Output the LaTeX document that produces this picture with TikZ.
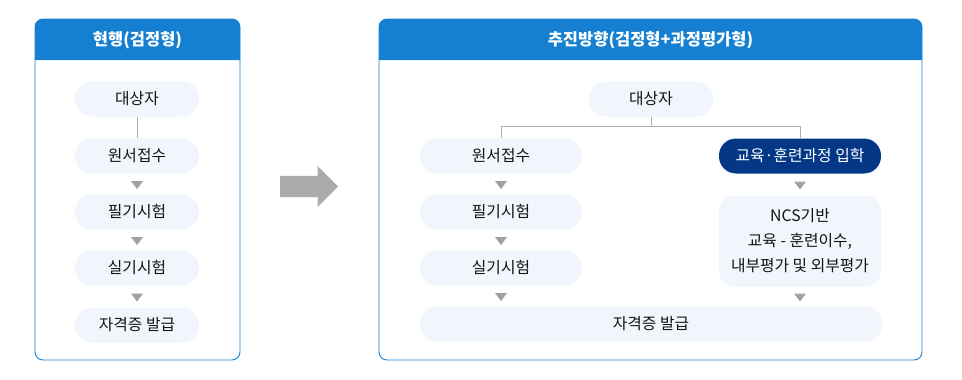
\documentclass[tikz,border=0pt]{standalone}
\usepackage{fontspec}
\setmainfont{Noto Sans CJK KR}
\usetikzlibrary{shapes.geometric,shapes.arrows}
\definecolor{headblue}{RGB}{21,128,210}
\definecolor{pillfill}{RGB}{241,246,253}
\definecolor{navy}{RGB}{4,56,135}
\definecolor{textdark}{RGB}{20,20,20}
\definecolor{markgray}{RGB}{160,160,160}
\definecolor{linegray}{RGB}{175,175,175}
\definecolor{arrowgray}{RGB}{171,171,171}
\tikzset{
  % --- PANELS ---
  panel-box/.style={
    draw=headblue,
    fill=white,
    line width=0.9pt,
    rounded corners=8pt
  },
  panel-head/.style={
    fill=headblue
  },
  panel-title/.style={
    text=white,
    font=\fontsize{16.5}{20}\selectfont\bfseries
  },
  % --- STEPS ---
  pill/.style={
    fill=pillfill,
    text=textdark,
    rounded corners=17pt,
    minimum height=35pt,
    minimum width=124pt,
    inner sep=0pt,
    font=\fontsize{15.8}{19}\selectfont
  },
  pill-wide/.style={
    pill,
    minimum width=162pt
  },
  pill-dark/.style={
    pill-wide,
    fill=navy,
    text=white
  },
  info-box/.style={
    pill-wide,
    rounded corners=15pt,
    minimum height=91pt,
    align=center,
    font=\fontsize{15.8}{25}\selectfont
  },
  % --- CONNECTORS ---
  link/.style={
    draw=linegray,
    line width=0.9pt
  },
  down-mark/.style={
    shape=isosceles triangle,
    isosceles triangle stretches,
    shape border rotate=270,
    minimum width=12pt,
    minimum height=8pt,
    inner sep=0pt,
    fill=markgray
  },
  big-arrow/.style={
    shape=single arrow,
    fill=arrowgray,
    minimum height=58pt,
    minimum width=41pt,
    single arrow head extend=10pt,
    single arrow head indent=0pt,
    inner xsep=0pt,
    inner ysep=10.5pt,
    anchor=tail
  },
}

\begin{document}
\begin{tikzpicture}[x=1pt,y=-1pt]
  \useasboundingbox (0,0) rectangle (962,380);

  % --- left panel
  \draw[panel-box] (35,19) rectangle (240,360);
  \fill[panel-head] (35,60) {[rounded corners=8pt] -- (35,19) -- (240,19)} -- (240,60) -- cycle;
  \node[panel-title] (l-title) at (137.5,40) {현행(검정형)};
  \node[pill] (l-target) at (137,99)  {대상자};
  \node[pill] (l-apply)  at (137,156) {원서접수};
  \node[pill] (l-write)  at (137,212) {필기시험};
  \node[pill] (l-prac)   at (137,268) {실기시험};
  \node[pill] (l-cert)   at (137,325) {자격증 발급};
  \draw[link] (l-target) -- (l-apply);
  \path (l-apply) -- node[down-mark] {} (l-write);
  \path (l-write) -- node[down-mark] {} (l-prac);
  \path (l-prac)  -- node[down-mark] {} (l-cert);

  % --- arrow between panels
  \node[big-arrow] (go) at (280,186.5) {};

  % --- right panel
  \draw[panel-box] (379,19) rectangle (922,360);
  \fill[panel-head] (379,60) {[rounded corners=8pt] -- (379,19) -- (922,19)} -- (922,60) -- cycle;
  \node[panel-title] (r-title) at (650.5,40) {추진방향(검정형+과정평가형)};
  \node[pill]      (r-target) at (651,99)  {대상자};
  \node[pill-wide] (r-apply)  at (501,156) {원서접수};
  \node[pill-wide] (r-write)  at (501,212) {필기시험};
  \node[pill-wide] (r-prac)   at (501,268) {실기시험};
  \node[pill-dark] (r-edu)    at (800,156) {교육·훈련과정 입학};
  \node[info-box]  (r-ncs)    at (800,241) {NCS기반\\교육 - 훈련이수,\\내부평가 및 외부평가};
  \node[pill, minimum width=462pt] (r-cert) at (651,324) {자격증 발급};
  \draw[link] (r-target.south) -- ++(0,10) coordinate (r-split) -| (r-apply.north);
  \draw[link] (r-split) -| (r-edu.north);
  \path (r-apply) -- node[down-mark] {} (r-write);
  \path (r-write) -- node[down-mark] {} (r-prac);
  \path (r-prac.south) -- node[down-mark] {} (r-prac.south |- r-cert.north);
  \path (r-edu) -- node[down-mark] {} (r-ncs);
  \path (r-ncs.south) -- node[down-mark] {} (r-ncs.south |- r-cert.north);

\end{tikzpicture}
\end{document}
